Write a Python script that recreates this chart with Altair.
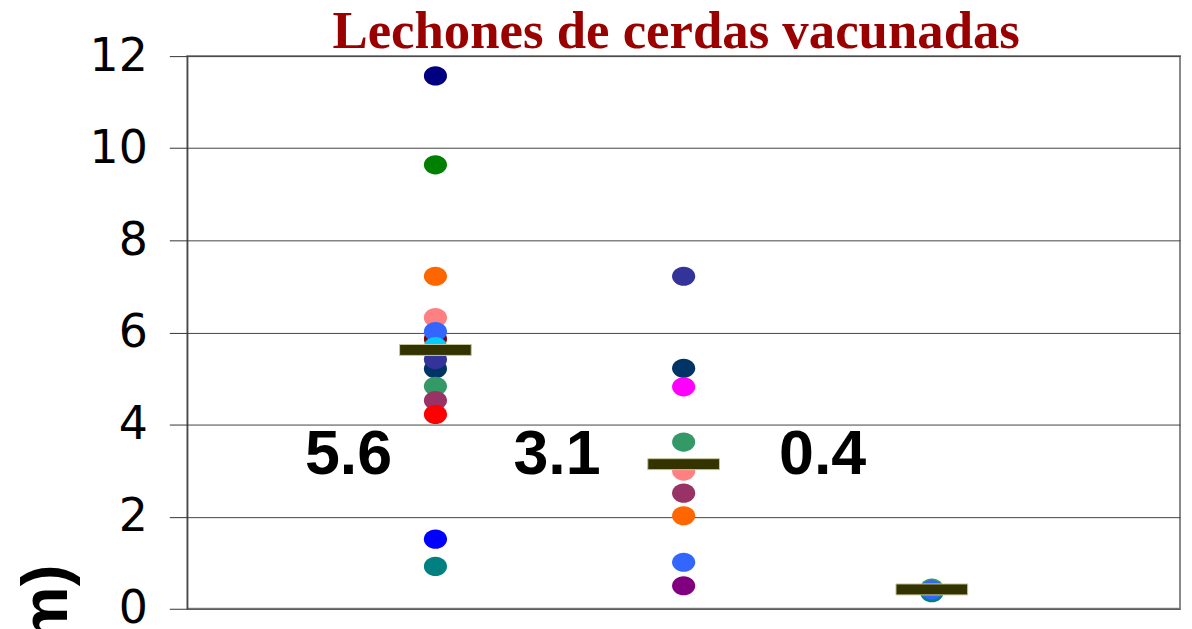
import altair as alt
import pandas as pd

title_text = "Lechones de cerdas vacunadas"
y_title = "(mm)"

group_pos = [1, 2, 3]

g1_values = [11.57, 9.64, 7.22, 6.32, 5.86, 6.02, 5.69, 5.21, 5.41, 4.83, 4.52, 4.22, 1.51, 0.92]
g1_colors = ["#000080", "#008000", "#FF6600", "#FF8080", "#800000", "#3366FF", "#00CCFF",
             "#003366", "#333399", "#339966", "#993366", "#FF0000", "#0000FF", "#008080"]

g2_values = [7.22, 5.22, 4.82, 3.62, 2.99, 2.51, 2.02, 1.01, 0.50]
g2_colors = ["#333399", "#003366", "#FF00FF", "#339966", "#FF8080", "#993366", "#FF6600",
             "#3366FF", "#800080"]

g3_values = [0.45, 0.35, 0.41]
g3_colors = ["#339966", "#008080", "#3366FF"]

means = [5.62, 3.14, 0.42]
label_x = [0.65, 1.49, 2.56]
label_y = [2.92, 2.92, 2.92]

y_ticks = [0, 2, 4, 6, 8, 10, 12]

rows = []
for gx, vals, cols in zip(group_pos, [g1_values, g2_values, g3_values],
                          [g1_colors, g2_colors, g3_colors]):
    for v, c in zip(vals, cols):
        rows.append({"x": gx, "y": v, "color": c})
pts = pd.DataFrame(rows)

mean_df = pd.DataFrame({"x": group_pos, "y": means})
lab_df = pd.DataFrame({"x": label_x, "y": label_y,
                       "label": [f"{m:.1f}" for m in means]})
title_df = pd.DataFrame({"t": [title_text]})

x_scale = alt.Scale(domain=[0, 4], nice=False, zero=False)
y_scale = alt.Scale(domain=[0, 12], nice=False)

ELLIPSE = "M-1,0A1,0.83,0,1,1,1,0A1,0.83,0,1,1,-1,0Z"

y_axis = alt.Axis(
    values=y_ticks, title=y_title, grid=True,
    titleAngle=270, titleAlign="right", titleBaseline="alphabetic",
    titleX=-121, titleY=510,
    titleFont="Liberation Sans", titleFontWeight="bold", titleFontSize=66,
    titleColor="black",
)

points = alt.Chart(pts).mark_point(
    filled=True, opacity=1, shape=ELLIPSE, size=540, strokeWidth=0
).encode(
    x=alt.X("x:Q", scale=x_scale, axis=None),
    y=alt.Y("y:Q", scale=y_scale, axis=y_axis),
    color=alt.Color("color:N", scale=None),
)

bars = alt.Chart(mean_df).mark_tick(
    orient="horizontal", size=72, thickness=11, color="#333300", opacity=1,
    stroke="#C8C8A0", strokeWidth=1
).encode(
    x=alt.X("x:Q", scale=x_scale),
    y=alt.Y("y:Q", scale=y_scale),
)

labels = alt.Chart(lab_df).mark_text(
    font="Liberation Sans", fontWeight="bold", fontSize=63,
    baseline="alphabetic", align="center", color="black"
).encode(
    x=alt.X("x:Q", scale=x_scale),
    y=alt.Y("y:Q", scale=y_scale),
    text="label:N",
)

title = alt.Chart(title_df).mark_text(
    font="Liberation Serif", fontWeight="bold", fontSize=53, color="#990000",
    baseline="alphabetic", align="center"
).encode(
    x=alt.value(491), y=alt.value(-8), text="t:N"
)

chart = alt.layer(points, bars, labels, title).properties(
    width=997, height=555,
    autosize=alt.AutoSizeParams(type="none"),
    padding={"left": 180, "top": 47, "right": 4, "bottom": 19},
).configure_view(
    stroke="#888888", strokeWidth=2
).configure_axis(
    domainColor="#333333", domainWidth=1,
    tickColor="#333333", tickSize=18, tickWidth=1,
    labelFont="DejaVu Sans", labelFontSize=46, labelColor="black", labelPadding=22,
    gridColor="#444444", gridWidth=1,
)

chart.save("out.html", embed_options={"renderer": "svg", "actions": False})
